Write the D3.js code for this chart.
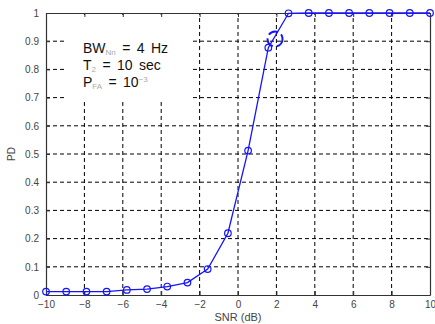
<!DOCTYPE html>
<html>
<head>
<meta charset="utf-8">
<script src="https://cdn.jsdelivr.net/npm/d3@7"></script>
<style>
  body { margin: 0; background: #fff; }
  text { font-family: "Liberation Sans", Arial, sans-serif; }
</style>
</head>
<body>
<script>
// SNR sample points (linspace -10..10, 20 points) and detection probability
let snr = [-10, -8.947, -7.895, -6.842, -5.789, -4.737, -3.684, -2.632, -1.579, -0.526,
           0.526, 1.579, 2.632, 3.684, 4.737, 5.789, 6.842, 7.895, 8.947, 10];
let pd = [0.012, 0.012, 0.012, 0.012, 0.018, 0.021, 0.030, 0.044, 0.092, 0.219,
          0.512, 0.877, 0.999, 1, 1, 1, 1, 1, 1, 1];
let xTicks = [-10, -8, -6, -4, -2, 0, 2, 4, 6, 8, 10];
let yTicks = [0, 0.1, 0.2, 0.3, 0.4, 0.5, 0.6, 0.7, 0.8, 0.9, 1];
let marked = {snr: 1.93, pd: 0.908};

let width = 435;
let height = 324;
let margin = {top: 13, right: 5, bottom: 29, left: 46};

let x = d3.scaleLinear()
          .domain([-10, 10])
          .range([margin.left, width - margin.right]);
let y = d3.scaleLinear()
          .domain([0, 1])
          .range([height - margin.bottom, margin.top]);

let svg = d3.select("body")
            .append("svg")
            .attr("width", width)
            .attr("height", height);

// dashed grid
svg.append("g")
   .selectAll("line")
   .data(xTicks.slice(1, -1))
   .enter().append("line")
   .attr("x1", d => x(d)).attr("x2", d => x(d))
   .attr("y1", y(0)).attr("y2", y(1))
   .attr("stroke", "#000").attr("stroke-width", 1)
   .attr("stroke-dasharray", "4,3");
svg.append("g")
   .selectAll("line")
   .data(yTicks.slice(1, -1))
   .enter().append("line")
   .attr("x1", x(-10)).attr("x2", x(10))
   .attr("y1", d => y(d)).attr("y2", d => y(d))
   .attr("stroke", "#000").attr("stroke-width", 1)
   .attr("stroke-dasharray", "4,3");

// white box behind the annotation text
svg.append("rect")
   .attr("x", 67).attr("y", 17)
   .attr("width", 125).attr("height", 84)
   .attr("fill", "#fff");

// axes with inward ticks on all four sides
let tickFmt = d => d3.format("")(d);
let axBottom = svg.append("g")
   .attr("transform", `translate(0,${y(0)})`)
   .call(d3.axisBottom(x).tickValues(xTicks).tickSizeInner(-4).tickSizeOuter(0).tickPadding(6).tickFormat(tickFmt));
let axTop = svg.append("g")
   .attr("transform", `translate(0,${y(1)})`)
   .call(d3.axisTop(x).tickValues(xTicks).tickSizeInner(-4).tickSizeOuter(0).tickFormat(""));
let axLeft = svg.append("g")
   .attr("transform", `translate(${x(-10)},0)`)
   .call(d3.axisLeft(y).tickValues(yTicks).tickSizeInner(-4).tickSizeOuter(0).tickPadding(7).tickFormat(tickFmt));
let axRight = svg.append("g")
   .attr("transform", `translate(${x(10)},0)`)
   .call(d3.axisRight(y).tickValues(yTicks).tickSizeInner(-4).tickSizeOuter(0).tickFormat(""));

[axBottom, axTop, axLeft, axRight].forEach(g => {
  g.select(".domain").attr("stroke", "#333").attr("stroke-width", 1.2);
  g.selectAll(".tick line").attr("stroke", "#333");
  g.selectAll(".tick text").attr("fill", "#444").attr("font-size", 10)
   .attr("font-family", "'Liberation Sans', Arial, sans-serif");
});

// curve
svg.append("path")
   .datum(snr.map((s, i) => [s, pd[i]]))
   .attr("fill", "none")
   .attr("stroke", "#1414ff")
   .attr("stroke-width", 1.3)
   .attr("d", d3.line().x(d => x(d[0])).y(d => y(d[1])));

svg.selectAll(".pt")
   .data(snr.map((s, i) => [s, pd[i]]))
   .enter().append("circle")
   .attr("class", "pt")
   .attr("cx", d => x(d[0]))
   .attr("cy", d => y(d[1]))
   .attr("r", 3.3)
   .attr("fill", "none")
   .attr("stroke", "#1414ff")
   .attr("stroke-width", 1.2);

// highlighted operating point
svg.append("circle")
   .attr("cx", x(marked.snr))
   .attr("cy", y(marked.pd))
   .attr("r", 7.5)
   .attr("fill", "none")
   .attr("stroke", "#1414ff")
   .attr("stroke-width", 2)
   .attr("stroke-dasharray", "10,4");

// annotation text
let note = svg.append("g").attr("font-size", 14).attr("fill", "#111")
              .attr("word-spacing", 2.5);
let t1 = note.append("text").attr("x", 83).attr("y", 53);
t1.append("tspan").text("BW");
t1.append("tspan").attr("font-size", 8).attr("fill", "#aaa").attr("dy", 2).text("Nn");
t1.append("tspan").attr("dy", -2).text(" = 4 Hz");
let t2 = note.append("text").attr("x", 83).attr("y", 70);
t2.append("tspan").text("T");
t2.append("tspan").attr("font-size", 8).attr("fill", "#aaa").attr("dy", 2).text("2");
t2.append("tspan").attr("dy", -2).text(" = 10 sec");
let t3 = note.append("text").attr("x", 83).attr("y", 87);
t3.append("tspan").text("P");
t3.append("tspan").attr("font-size", 8).attr("fill", "#aaa").attr("dy", 2).text("FA");
t3.append("tspan").attr("dy", -2).text(" = 10");
t3.append("tspan").attr("font-size", 8).attr("fill", "#aaa").attr("dy", -5).text("−3");

// axis labels
svg.append("text")
   .attr("x", (x(-10) + x(10)) / 2)
   .attr("y", 321)
   .attr("text-anchor", "middle")
   .attr("font-size", 11)
   .attr("fill", "#444")
   .text("SNR (dB)");
svg.append("text")
   .attr("transform", `translate(15,${(y(0) + y(1)) / 2}) rotate(-90)`)
   .attr("text-anchor", "middle")
   .attr("font-size", 10)
   .attr("fill", "#444")
   .text("PD");
</script>
</body>
</html>
